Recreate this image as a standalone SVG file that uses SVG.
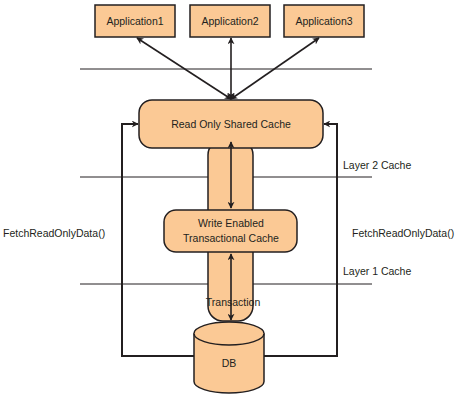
<svg xmlns="http://www.w3.org/2000/svg" width="457" height="400" viewBox="0 0 457 400">
<style>
.box{fill:#fbc995;stroke:#231f20;stroke-width:1.5}
.t{font-family:"Liberation Sans",Arial,sans-serif;font-size:10.5px;fill:#231f20}
.c{text-anchor:middle}
.sep{stroke:#231f20;stroke-width:1;fill:none}
.arr{stroke:#231f20;stroke-width:1.6;fill:none}
.fb{stroke:#231f20;stroke-width:2;fill:none}
</style>
<defs>
<marker id="ah" viewBox="0 0 10 10" refX="9" refY="5" markerWidth="7" markerHeight="7" orient="auto-start-reverse" markerUnits="userSpaceOnUse">
<path d="M0,0 L10,5 L0,10 L3,5 z" fill="#231f20"/>
</marker>
</defs>
<rect x="0" y="0" width="457" height="400" fill="#fff"/>
<g id="separators">
<line class="sep" x1="80" y1="69" x2="372" y2="69"/>
<line class="sep" x1="80" y1="177" x2="372" y2="177"/>
<line class="sep" x1="80" y1="284" x2="372" y2="284"/>
<text class="t" x="343" y="169">Layer 2 Cache</text>
<text class="t" x="343" y="275">Layer 1 Cache</text>
</g>
<g id="pipe">
<rect class="box" x="208" y="140" width="45" height="181" rx="15"/>
</g>
<g id="app1">
<rect class="box" x="95" y="5" width="80" height="32"/>
<text class="t c" x="135" y="25">Application1</text>
</g>
<g id="app2">
<rect class="box" x="190" y="5" width="80" height="32"/>
<text class="t c" x="230" y="25">Application2</text>
</g>
<g id="app3">
<rect class="box" x="284" y="5" width="80" height="32"/>
<text class="t c" x="324" y="25">Application3</text>
</g>
<g id="readonly">
<rect class="box" x="139" y="100" width="184" height="48" rx="13"/>
<text class="t c" x="231" y="128">Read Only Shared Cache</text>
</g>
<g id="writeenabled">
<rect class="box" x="164" y="210" width="133" height="42" rx="12"/>
<text class="t c" x="231" y="227">Write Enabled</text>
<text class="t c" x="231" y="242">Transactional Cache</text>
</g>
<g id="db">
<path class="box" d="M194,333.5 L194,381.5 A35,11.5 0 0 0 264,381.5 L264,333.5 A35,11.5 0 0 0 194,333.5 Z"/>
<path class="box" d="M194,333.5 A35,11.5 0 0 0 264,333.5" fill="none"/>
<text class="t c" x="229" y="367">DB</text>
</g>
<g id="connectors">
<line class="arr" x1="231" y1="99" x2="137" y2="38" marker-start="url(#ah)" marker-end="url(#ah)"/>
<line class="arr" x1="231" y1="99" x2="231" y2="38" marker-start="url(#ah)" marker-end="url(#ah)"/>
<line class="arr" x1="231" y1="99" x2="319" y2="38" marker-start="url(#ah)" marker-end="url(#ah)"/>
<line class="arr" x1="231" y1="142" x2="231" y2="208" marker-start="url(#ah)" marker-end="url(#ah)"/>
<line class="arr" x1="231" y1="254" x2="231" y2="320" marker-start="url(#ah)" marker-end="url(#ah)"/>
<polyline class="fb" points="194,356 122,356 122,124 138,124" marker-end="url(#ah)"/>
<polyline class="fb" points="264,356 337,356 337,124 324,124" marker-end="url(#ah)"/>
<text class="t c" x="233" y="306">Transaction</text>
<text class="t" x="3" y="237">FetchReadOnlyData()</text>
<text class="t" x="352" y="237">FetchReadOnlyData()</text>
</g>
</svg>
